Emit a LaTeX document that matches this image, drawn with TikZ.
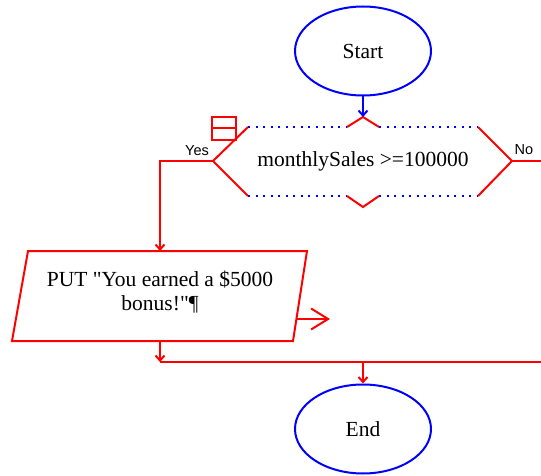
\documentclass[tikz,border=0pt]{standalone}
\usepackage{fontspec}
\setmainfont{Liberation Serif}[Ligatures=TeXOff]
\newfontfamily\labelfont{Liberation Sans}
\usetikzlibrary{arrows.meta,shapes.geometric}

\begin{document}
\begin{tikzpicture}[x=1pt,y=-1pt,line width=2pt,
	terminal/.style={ellipse,draw=blue,minimum width=136pt,minimum height=89pt,inner sep=0pt,font=\fontsize{21.5}{24}\selectfont},
	txt/.style={inner sep=0pt,align=center,font=\fontsize{21.5}{24}\selectfont},
	branch/.style={inner sep=0pt,font=\labelfont\fontsize{14.5}{16}\selectfont},
	dots/.style={blue,dash pattern=on 2pt off 5.5pt},
	>={Straight Barb[length=5pt,width=9pt]}]
		\useasboundingbox (0,0) rectangle (541,476);
		\clip (0,0) rectangle (541,476);
		% terminals
		\node[terminal] (start) at (363,51) {Start};
		\node[terminal] (end) at (363,429) {End};
		% decision
		\node[txt] (cond) at (363,161) {monthlySales >=100000};
		\coordinate (cond-t) at (363,117);
		\coordinate (cond-l) at (213,161);
		\coordinate (cond-r) at (512,161);
		\draw[red] (248,127) -- (cond-l) -- (248,196);
		\draw[red] (478,127) -- (cond-r) -- (478,196);
		\draw[red] (347,127) -- (cond-t) -- (379,127);
		\draw[red] (347,196) -- (363,207) -- (379,196);
		\draw[dots] (248,127) -- (347,127) (379,127) -- (478,127);
		\draw[dots] (248,196) -- (347,196) (379,196) -- (478,196);
		\draw[red] (212,117) rectangle (236,140) (212,128.5) -- (236,128.5);
		\node[branch] (yes) at (197,151) {Yes};
		\node[branch] (no) at (524,150) {No};
		% output
		\draw[red] (28,251) -- (307,251) -- (293,341) -- (12,341) -- cycle;
		\node[txt] (put) at (160,292) {PUT "You earned a \$5000\\bonus!"¶};
		\coordinate (put-t) at (160,251);
		\coordinate (put-b) at (160,341);
		\coordinate (put-o) at (296,319);
		\coordinate (put-x) at (330,319);
		% join
		\coordinate (join-l) at (160,362);
		\coordinate (join-m) at (363,362);
		\coordinate (join-r) at (560,362);
		\coordinate (no-r) at (560,161);
		%
		\draw[->,blue] (start) -- (cond-t);
		\draw[->,red] (cond-l) -| (put-t);
		\draw[red] (cond-r) -- (no-r) -- (join-r);
		\draw[->,red] (put-b) -- (join-l);
		\draw[red] (join-l) -- (join-r);
		\draw[->,red] (join-m) -- (end);
		\draw[red,-{Straight Barb[length=17pt,width=21pt]}] (put-o) -- (put-x);
\end{tikzpicture}
\end{document}
